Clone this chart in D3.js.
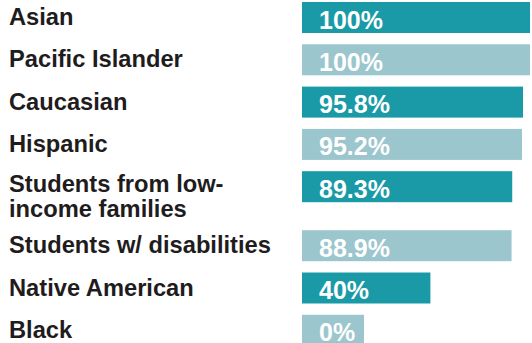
<!DOCTYPE html>
<html>
<head>
<meta charset="utf-8">
<script src="https://cdn.jsdelivr.net/npm/d3@7/dist/d3.min.js"></script>
<style>
  html, body { margin: 0; padding: 0; background: #fff; }
  svg { display: block; }
</style>
</head>
<body>
<svg id="chart" width="532" height="343"></svg>
<script>
// Graduation rate by student group
const groups = [
  ["Asian"],
  ["Pacific Islander"],
  ["Caucasian"],
  ["Hispanic"],
  ["Students from low-", "income families"],
  ["Students w/ disabilities"],
  ["Native American"],
  ["Black"]
];
const rates = [100, 100, 95.8, 95.2, 89.3, 88.9, 40, 0];
const rateLabels = ["100%", "100%", "95.8%", "95.2%", "89.3%", "88.9%", "40%", "0%"];
const barColors = ["#1a9aa6", "#9bc6cd"];

const svg = d3.select("#chart");
const barX = 302;
const barH = 31;
const rowH = 42.3;
const extraLine = 16.7;

// Row tops: taller rows where the group name wraps to two lines
const rowHeights = groups.map(g => rowH + (g.length - 1) * extraLine);
const rowTops = rowHeights.map((h, i) => 2 + d3.sum(rowHeights.slice(0, i)));

// Bars keep a short stub at 0% so the value label fits inside
const x = d3.scaleLinear().domain([0, 100]).range([62, 228]);

const rows = svg.selectAll("g.row")
  .data(rates.map((v, i) => ({ v, i, name: groups[i], label: rateLabels[i] })))
  .join("g")
  .attr("class", "row")
  .attr("transform", d => `translate(0,${rowTops[d.i]})`);

rows.append("rect")
  .attr("x", barX)
  .attr("y", 0)
  .attr("width", d => x(d.v))
  .attr("height", barH)
  .attr("fill", d => barColors[d.i % 2]);

rows.append("text")
  .attr("x", barX + 17)
  .attr("y", 26.5)
  .attr("fill", "#fff")
  .style("font-family", "'Liberation Sans', Arial, sans-serif")
  .style("font-weight", "bold")
  .style("font-size", "25px")
  .text(d => d.label);

const nameText = rows.append("text")
  .attr("x", 9)
  .attr("y", d => d.name.length > 1 ? 20.5 : 23)
  .attr("fill", "#1f1c1d")
  .style("font-family", "'Liberation Sans', Arial, sans-serif")
  .style("font-weight", "bold")
  .style("font-size", "23.7px");

nameText.selectAll("tspan")
  .data(d => d.name)
  .join("tspan")
  .attr("x", 9)
  .attr("dy", (d, j) => j === 0 ? 0 : 25.5)
  .text(d => d);
</script>
</body>
</html>
